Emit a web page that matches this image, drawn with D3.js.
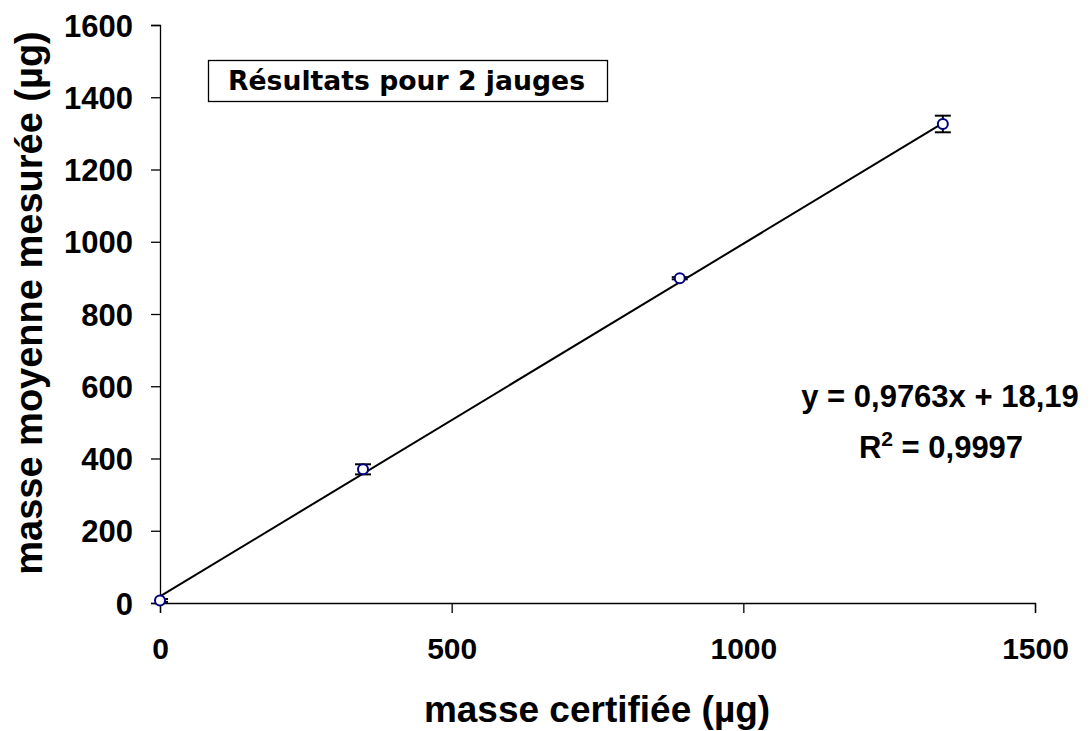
<html>
<head>
<meta charset="utf-8">
<script src="https://cdn.jsdelivr.net/npm/d3@7"></script>
<style>
  body { margin: 0; background: #fff; }
  text { font-family: "Liberation Sans", Arial, sans-serif; font-weight: bold; fill: #000; }
</style>
</head>
<body>
<script>
// data
var certified = [0, 348, 891, 1342];
var measured = [7, 370, 899, 1326];
var errors = [4, 14, 3, 23];
var xTicks = [0, 500, 1000, 1500];
var yTicks = [0, 200, 400, 600, 800, 1000, 1200, 1400, 1600];
var slope = 0.9763, intercept = 18.19;
var eqLine = "y = 0,9763x + 18,19";
var r2Value = " = 0,9997";
var boxTitle = "Résultats pour 2 jauges";

var W = 1091, H = 731;
var margin = {left: 160, right: 56, top: 25, bottom: 128};

var svg = d3.select("body").append("svg")
    .attr("width", W)
    .attr("height", H);

var x = d3.scaleLinear().domain([0, 1500]).range([margin.left, W - margin.right]);
var y = d3.scaleLinear().domain([0, 1600]).range([H - margin.bottom, margin.top]);

// y axis
var yAxis = svg.append("g")
    .attr("transform", "translate(" + margin.left + ",0)")
    .call(d3.axisLeft(y).tickValues(yTicks).tickSize(9).tickPadding(18).tickFormat(d3.format("d")));
yAxis.selectAll("text").style("font-size", "31px").attr("dy", "0.36em");

// x axis
var xAxis = svg.append("g")
    .attr("transform", "translate(0," + y(0) + ")")
    .call(d3.axisBottom(x).tickValues(xTicks).tickSize(10).tickPadding(24).tickFormat(d3.format("d")));
xAxis.selectAll("text").style("font-size", "30px").attr("dy", "0.72em");

svg.selectAll(".domain").attr("stroke", "#000").attr("stroke-width", 1.3);
svg.selectAll(".tick line").attr("stroke", "#000").attr("stroke-width", 1.3);

// axis titles
svg.append("text")
    .attr("transform", "translate(" + 42 + "," + 303 + ") rotate(-90)")
    .attr("text-anchor", "middle")
    .style("font-size", "38px")
    .text("masse moyenne mesurée (µg)");

svg.append("text")
    .attr("x", 597)
    .attr("y", 722)
    .attr("text-anchor", "middle")
    .style("font-size", "37px")
    .text("masse certifiée (µg)");

// trend line over the data range
var ext = d3.extent(certified);
svg.append("line")
    .attr("x1", x(ext[0]))
    .attr("y1", y(slope * ext[0] + intercept))
    .attr("x2", x(ext[1]))
    .attr("y2", y(slope * ext[1] + intercept))
    .attr("stroke", "#000")
    .attr("stroke-width", 2);

// error bars, clipped to the plot area like the original
svg.append("clipPath").attr("id", "plot")
    .append("rect")
    .attr("x", margin.left).attr("y", margin.top)
    .attr("width", W - margin.right - margin.left)
    .attr("height", y(0) - margin.top);

var pts = certified.map(function (c, i) {
    return {x: c, y: measured[i], e: errors[i]};
});

var eb = svg.append("g").attr("clip-path", "url(#plot)")
    .selectAll("g").data(pts).enter().append("g")
    .attr("stroke", "#000").attr("stroke-width", 2);
eb.append("line")
    .attr("x1", function (d) { return x(d.x); })
    .attr("x2", function (d) { return x(d.x); })
    .attr("y1", function (d) { return y(d.y - d.e); })
    .attr("y2", function (d) { return y(d.y + d.e); });
[-1, 1].forEach(function (s) {
    eb.append("line")
        .attr("x1", function (d) { return x(d.x) - 8; })
        .attr("x2", function (d) { return x(d.x) + 8; })
        .attr("y1", function (d) { return y(d.y + s * d.e); })
        .attr("y2", function (d) { return y(d.y + s * d.e); });
});

// markers
svg.append("g").selectAll("circle").data(pts).enter().append("circle")
    .attr("cx", function (d) { return x(d.x); })
    .attr("cy", function (d) { return y(d.y); })
    .attr("r", 5)
    .attr("fill", "#fff")
    .attr("stroke", "#000080")
    .attr("stroke-width", 2);

// equation
svg.append("text")
    .attr("x", 940).attr("y", 407)
    .attr("text-anchor", "middle")
    .style("font-size", "31px")
    .text(eqLine);

var r2 = svg.append("text")
    .attr("x", 941).attr("y", 458)
    .attr("text-anchor", "middle")
    .style("font-size", "31px");
r2.append("tspan").text("R");
r2.append("tspan").attr("dy", -12).style("font-size", "21px").text("2");
r2.append("tspan").attr("dy", 12).text(r2Value);

// title box
svg.append("rect")
    .attr("x", 208.5).attr("y", 60.5)
    .attr("width", 399).attr("height", 41)
    .attr("fill", "#fff")
    .attr("stroke", "#000")
    .attr("stroke-width", 1.3);
svg.append("text")
    .attr("x", 228).attr("y", 90)
    .attr("textLength", 357)
    .attr("lengthAdjust", "spacingAndGlyphs")
    .style("font-family", "'DejaVu Sans', sans-serif")
    .style("font-size", "27px")
    .text(boxTitle);
</script>
</body>
</html>
